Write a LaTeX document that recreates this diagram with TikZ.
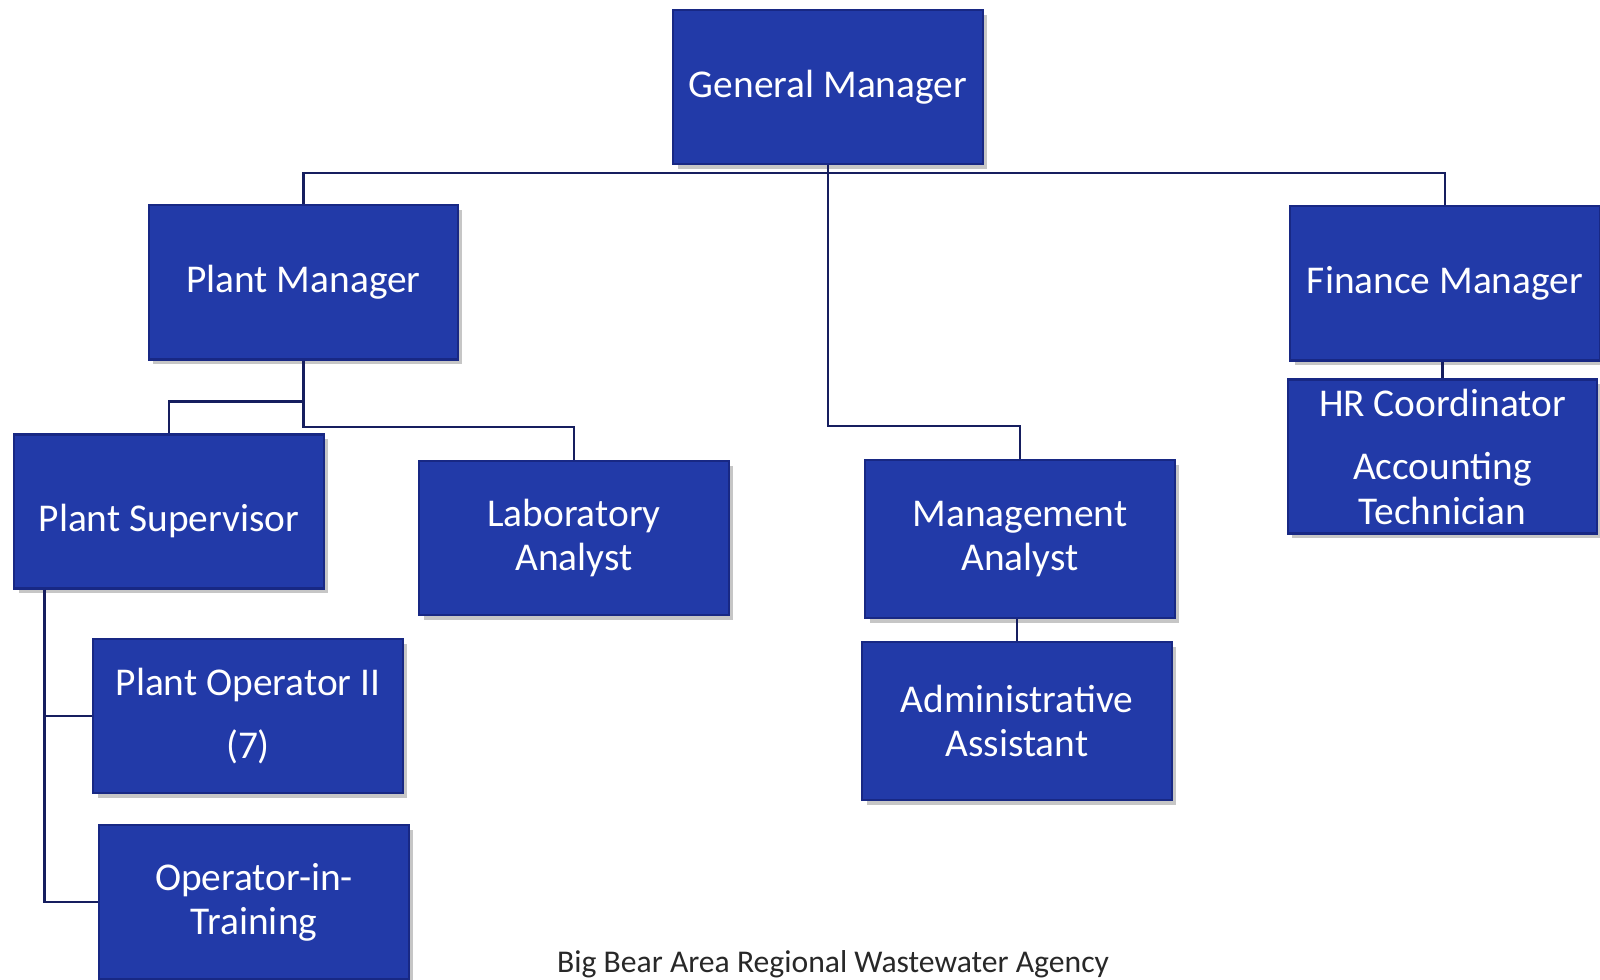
\documentclass[tikz,border=0pt]{standalone}
\usepackage{fontspec}
\setmainfont{Carlito}
\usepackage{tikz}
\usetikzlibrary{positioning,calc,shadows}
\definecolor{ChartBlue}{RGB}{34,58,168}
\definecolor{ChartEdge}{RGB}{24,40,132}
\definecolor{LineNavy}{RGB}{22,30,95}
\definecolor{CaptionGray}{RGB}{40,40,40}

\begin{document}
\begin{tikzpicture}[x=0.01cm,y=-0.01cm,
            role/.style={draw=ChartEdge,fill=ChartBlue,text=white,line width=0.6pt,
                minimum width=3.09cm,minimum height=1.54cm,inner sep=0pt,align=center,
                font=\fontsize{11.2}{12.6}\selectfont,
                drop shadow={shadow xshift=1.2pt,shadow yshift=-1.4pt,opacity=0.45}},
            link/.style={LineNavy,line width=0.8pt}]
            \useasboundingbox (0,0) rectangle (1600,980);
            \node[role] (gm) at (828,87) {General Manager};
            \node[role] (pm) at (303.5,282.5) {Plant Manager};
            \node[role] (fm) at (1445,283.5) {Finance Manager};
            \node[role] (hr) at (1442.5,456.5) {HR Coordinator\\[5.5pt]Accounting\\Technician};
            \node[role,text height=13.5pt,text depth=2.2pt] (ps) at (169,511.5) {Plant Supervisor};
            \node[role] (la) at (574,538) {Laboratory\\Analyst};
            \node[role,minimum height=1.58cm] (ma) at (1020,539) {Management\\Analyst};
            \node[role,minimum height=1.58cm] (aa) at (1017,721) {Administrative\\Assistant};
            \node[role] (po) at (248,716) {Plant Operator II\\[5.5pt](7)};
            \node[role] (oit) at (254,902) {Operator-in-\\Training};
            \draw[link] (gm.south) -- ++(0,8) coordinate (bus) -| (pm.north);
            \draw[link] (bus) -| (fm.north);
            \draw[link] (bus) -- ++(0,253) -| (ma.north);
            \draw[link] (pm.south) -- ++(0,41) -| (ps.north);
            \draw[link] (pm.south) -- ++(0,66.5) -| (la.north);
            \coordinate (trunk) at ($(ps.south west)+(31,0)$);
            \draw[link] (trunk) |- (po.west);
            \draw[link] (trunk) |- (oit.west);
            \draw[link] (hr.north) -- (hr.north |- fm.south);
            \draw[link] (aa.north) -- (aa.north |- ma.south);
            \node[font=\fontsize{9}{11}\selectfont,text=CaptionGray,anchor=base] (agency) at (833,972) {Big Bear Area Regional Wastewater Agency};
        \end{tikzpicture}
\end{document}
